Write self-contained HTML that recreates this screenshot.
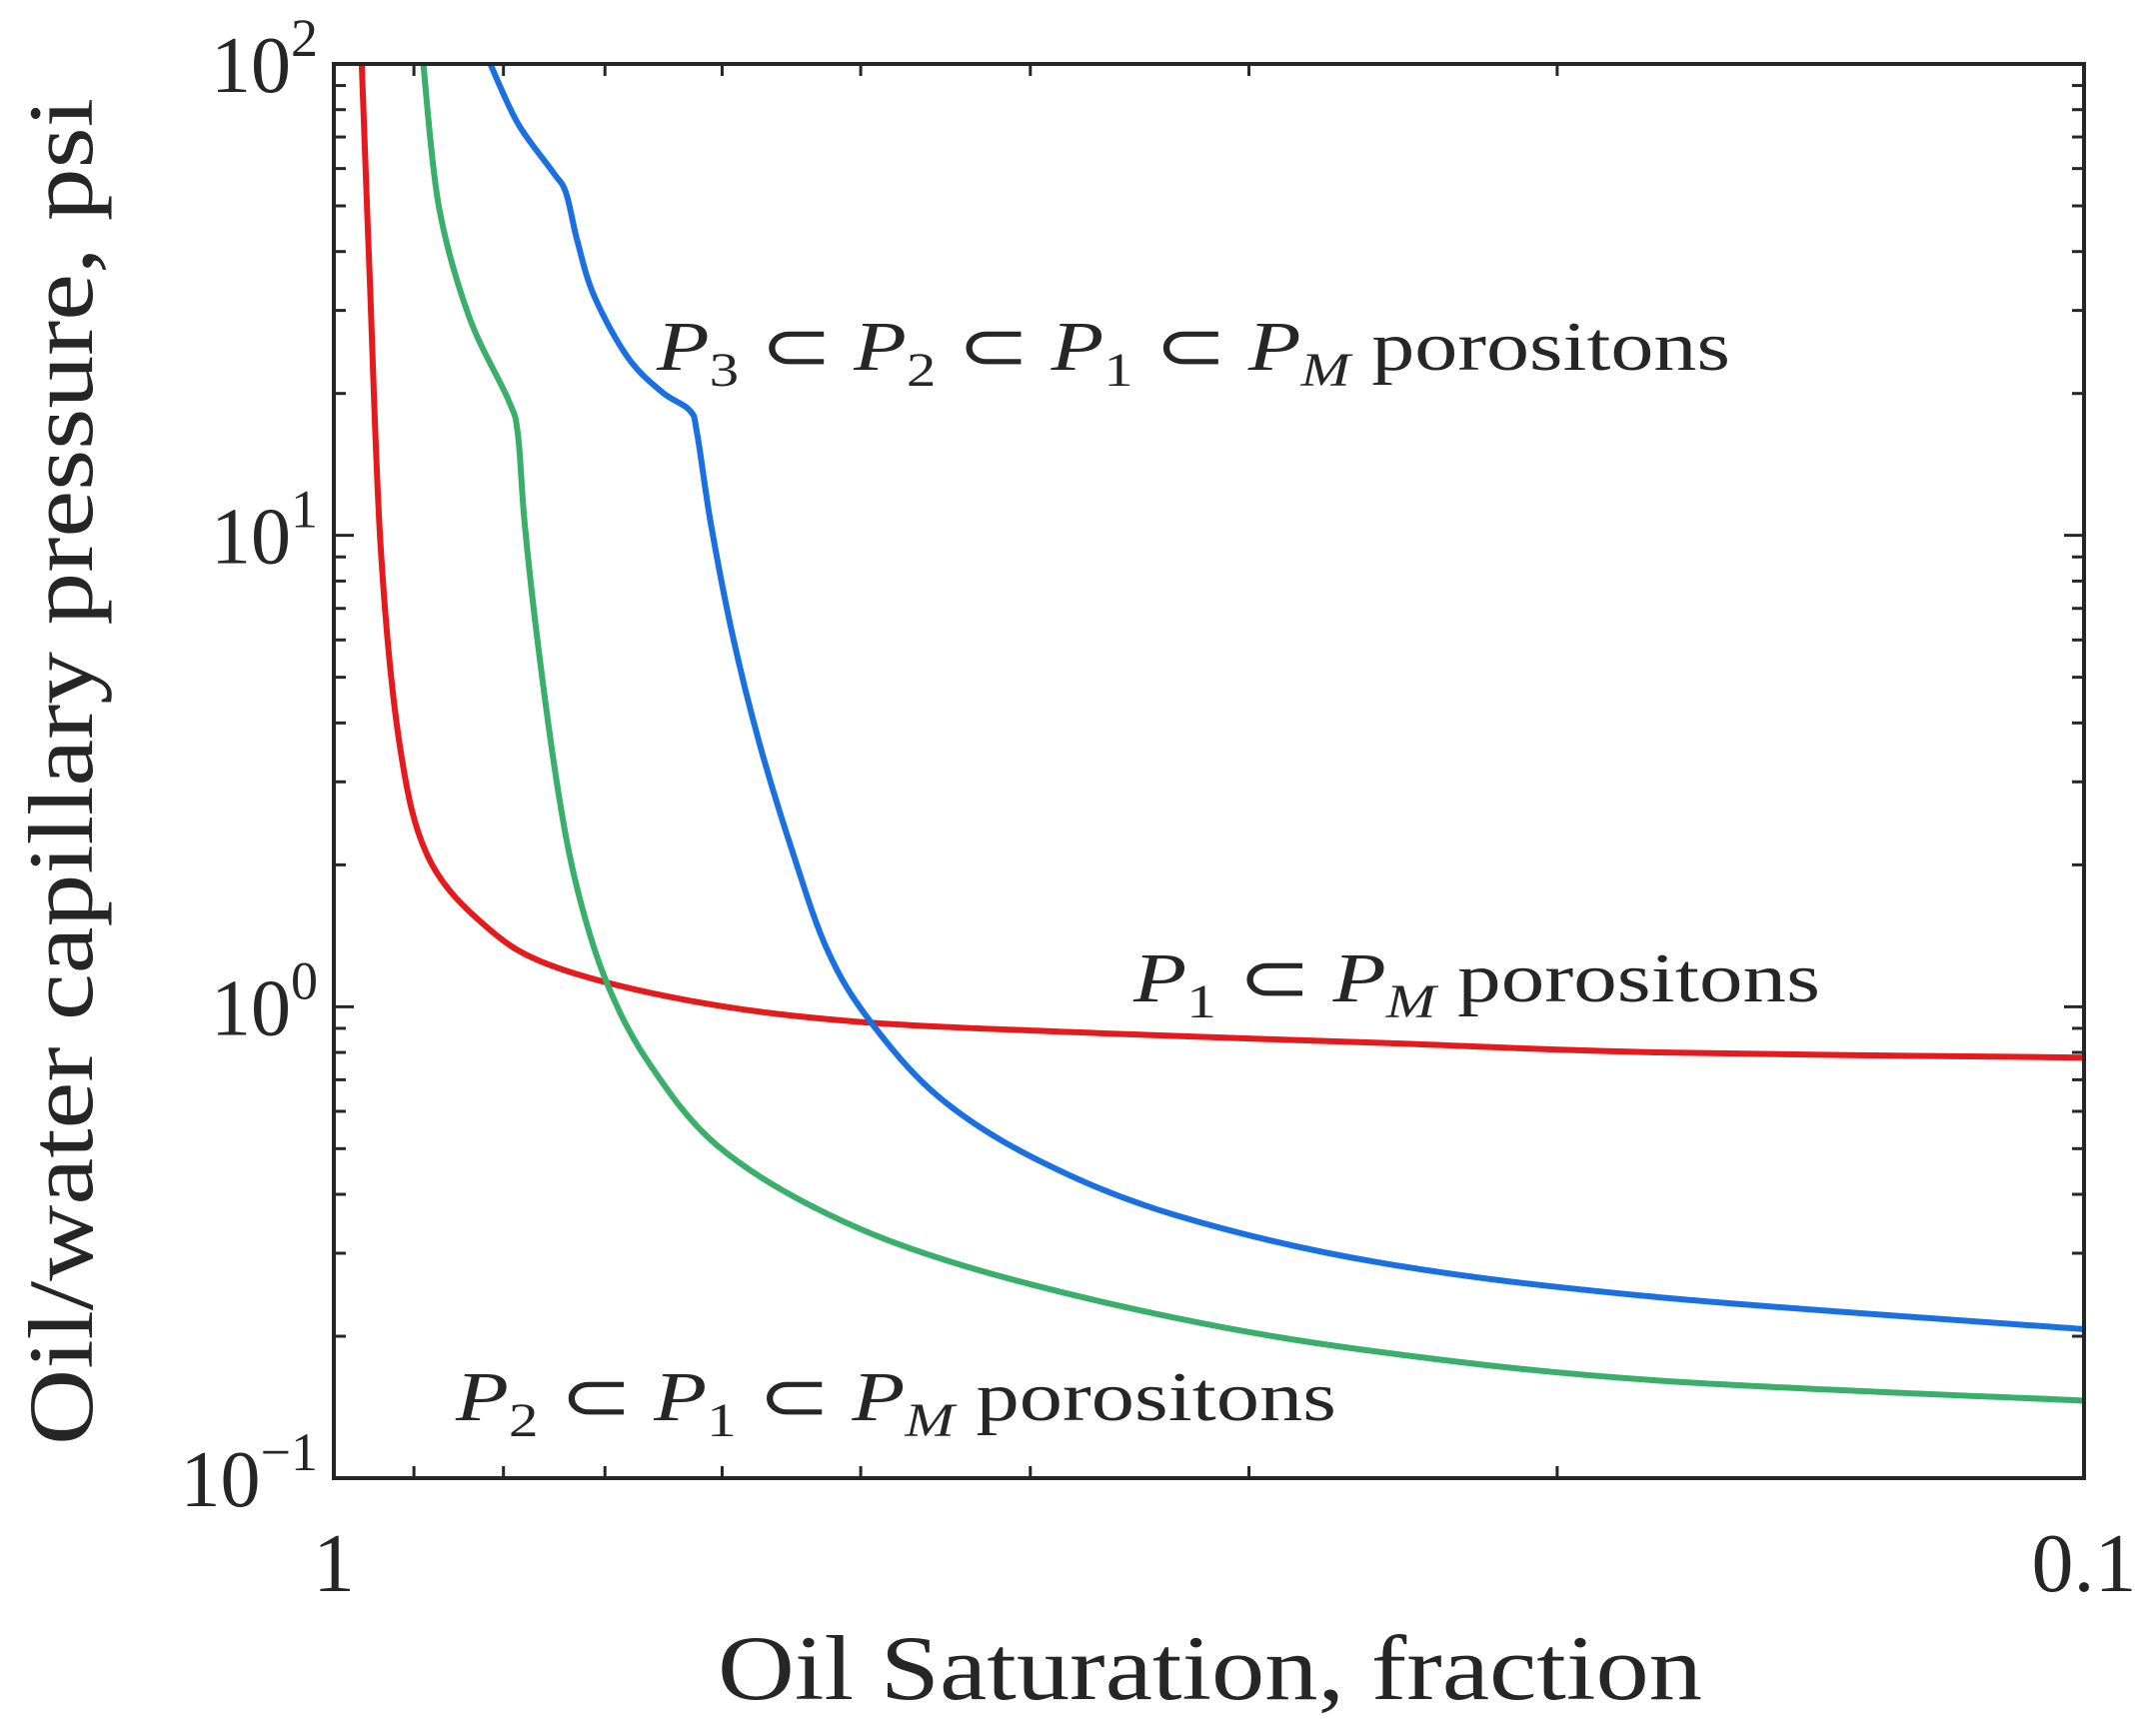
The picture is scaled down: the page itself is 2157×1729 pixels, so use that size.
<!DOCTYPE html>
<html><head><meta charset="utf-8"><style>
html,body{margin:0;padding:0;background:#fff}
svg text{font-family:"Liberation Serif",serif;fill:#262626}
</style></head><body>
<svg id="chart" width="2157" height="1724" viewBox="0 0 2157 1724" xmlns="http://www.w3.org/2000/svg">
<g id="plot"></g>
</svg>
<script>
const redS=[0.964,0.954,0.940,0.917,0.884,0.822,0.750,0.626,0.503,0.363,0.252,0.175,0.1];
const redP=[100,35.6,9.25,3.59,2.09,1.50,1.22,1.03,0.93,0.878,0.838,0.80,0.78];
const greenS=[0.889,0.871,0.837,0.795,0.785,0.778,0.764,0.743,0.724,0.698,0.661,0.604,0.522,0.435,0.331,0.252,0.175,0.1];
const greenP=[100,49.9,29.1,19.4,16.4,10.6,5.76,2.74,1.71,1.12,0.762,0.508,0.363,0.281,0.219,0.185,0.161,0.146];
const blueS=[0.814,0.785,0.750,0.737,0.726,0.710,0.679,0.649,0.626,0.620,0.609,0.592,0.571,0.546,0.522,0.494,0.451,0.397,0.331,0.252,0.175,0.1];
const blueP=[100,74.8,59.1,53.4,42.2,32.2,23.8,20.1,18.4,16.4,10.6,6.17,3.60,2.09,1.31,0.933,0.643,0.475,0.362,0.286,0.242,0.207];
const xTicks=[1,0.9,0.8,0.7,0.6,0.5,0.4,0.3,0.2,0.1];
const xTickLabels=["1","0.1"];
const yExps=[2,1,0,-1];

const L=334,R=2085,T=64,B=1479;
const xs=s=>L+(-Math.log10(s))*(R-L);
const ys=p=>T+(2-Math.log10(p))*(B-T)/3;
const NS="http://www.w3.org/2000/svg";
const g=document.getElementById('plot');
function mk(tag,attrs){const e=document.createElementNS(NS,tag);for(const k in attrs)e.setAttribute(k,attrs[k]);g.appendChild(e);return e;}

const defs=document.createElementNS(NS,'defs');
defs.innerHTML='<clipPath id="cp"><rect x="'+L+'" y="'+T+'" width="'+(R-L)+'" height="'+(B-T)+'"/></clipPath>';
g.appendChild(defs);

function curve(S,P,color,name){
  const pts=S.map((s,i)=>[xs(s),ys(P[i])]);
  let d='M'+pts[0][0].toFixed(1)+','+pts[0][1].toFixed(1);
  for(let i=0;i<pts.length-1;i++){
    const p0=pts[Math.max(0,i-1)],p1=pts[i],p2=pts[i+1],p3=pts[Math.min(pts.length-1,i+2)];
    const k=1/6;
    const c1=[p1[0]+(p2[0]-p0[0])*k,p1[1]+(p2[1]-p0[1])*k];
    const c2=[p2[0]-(p3[0]-p1[0])*k,p2[1]-(p3[1]-p1[1])*k];
    d+=' C'+c1[0].toFixed(1)+','+c1[1].toFixed(1)+' '+c2[0].toFixed(1)+','+c2[1].toFixed(1)+' '+p2[0].toFixed(1)+','+p2[1].toFixed(1);
  }
  const p=mk('path',{d:d,fill:'none',stroke:color,'stroke-width':6,'stroke-linejoin':'round','clip-path':'url(#cp)'});
  
  
}
curve(redS,redP,'#e41a1c','red-curve');
curve(greenS,greenP,'#3aaf6b','green-curve');
curve(blueS,blueP,'#1a70e0','blue-curve');

for(const t of xTicks){
  const x=xs(t);
  const a=mk('line',{x1:x,x2:x,y1:B,y2:B-12,stroke:'#262626','stroke-width':3});
  
  
  const b=mk('line',{x1:x,x2:x,y1:T,y2:T+12,stroke:'#262626','stroke-width':3});
  
  
}
for(let e=-1;e<2;e++){
  for(let m=1;m<10;m++){
    const y=ys(m*Math.pow(10,e));
    const len=m===1?20:12;
    const a=mk('line',{x1:L,x2:L+len,y1:y,y2:y,stroke:'#262626','stroke-width':3});
    
    
    const b=mk('line',{x1:R,x2:R-len,y1:y,y2:y,stroke:'#262626','stroke-width':3});
    
    
  }
}
const box=mk('rect',{x:L,y:T,width:R-L,height:B-T,fill:'none',stroke:'#262626','stroke-width':4});



for(const e of yExps){
  const y=ys(Math.pow(10,e));
  const t=mk('text',{x:L-16,y:y+28,'font-size':80,'text-anchor':'end'});
  
  
  t.innerHTML='10<tspan dy="-36" font-size="54">'+(e<0?'\u2212'+(-e):e)+'</tspan>';
}
[[1,xTickLabels[0]],[0.1,xTickLabels[1]]].forEach(([v,lab])=>{
  const t=mk('text',{x:xs(v),y:1592,'font-size':84,'text-anchor':'middle'});
  
  
  t.textContent=lab;
});
const xl=mk('text',{x:718,y:1700,'font-size':92,textLength:985,lengthAdjust:'spacingAndGlyphs'});


xl.textContent='Oil Saturation, fraction';
const yl=mk('text',{x:0,y:0,'font-size':92,textLength:1348,lengthAdjust:'spacingAndGlyphs',transform:'translate(92,1446) rotate(-90)'});


yl.textContent='Oil/water capillary pressure, psi';

function P(sub){return '<tspan font-style="italic">P</tspan><tspan dy="16" font-size="48"'+(sub==='M'?' font-style="italic"':'')+'>'+sub+'</tspan><tspan dy="-16"> </tspan>';}
function label(x,y,w,subs,name){
  const t=mk('text',{x:x,y:y,'font-size':70,textLength:w,lengthAdjust:'spacingAndGlyphs'});
  
  
  t.innerHTML=subs.map(P).join('\u2282 ')+' porositons';
}
label(657,370,1074,['3','2','1','M'],'label-p3-curve');
label(1134,1002,687,['1','M'],'label-p1-curve');
label(456,1421,881,['2','1','M'],'label-p2-curve');
</script>
</body></html>
